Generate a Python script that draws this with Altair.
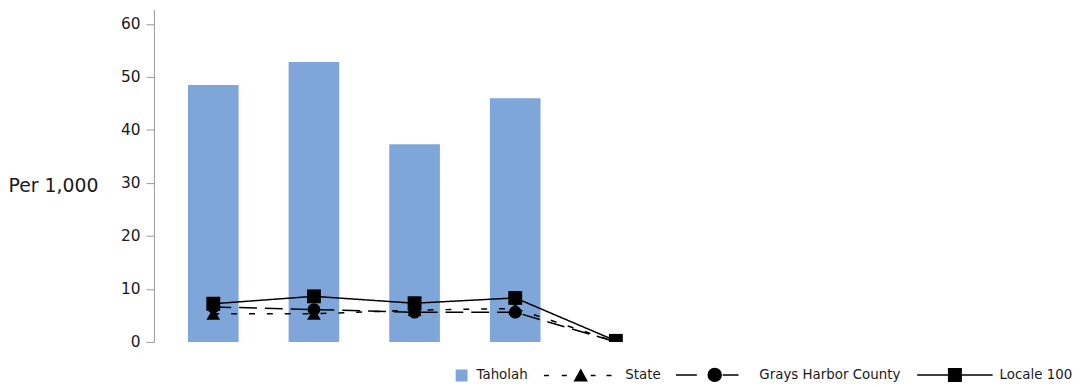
import altair as alt
import pandas as pd

# ---- data ----
periods = [1, 2, 3, 4, 5]
taholah = [48.5, 52.8, 37.3, 46.0, None]
state = [5.3, 5.3, 6.0, 6.3, 0.0]
grays = [6.6, 6.1, 5.6, 5.6, 0.0]
locale = [7.2, 8.6, 7.3, 8.3, 0.2]
series_names = ["Taholah", "State", "Grays Harbor County", "Locale 100"]
y_ticks = [0, 10, 20, 30, 40, 50, 60]

rows = []
for name, vals in zip(series_names, [taholah, state, grays, locale]):
    for p, v in zip(periods, vals):
        if v is not None:
            rows.append({"series": name, "period": p, "value": v})
df = pd.DataFrame(rows)

BAR = "#7EA6D8"
TXT = "#1a1a1a"
FONT = "DejaVu Sans"

# legend symbol paths (unit = sqrt(symbolSize)/2 = 7 px)
U = 7.0


def u(px):
    return round(px / U, 3)


def hseg(a, b):
    return f"M{u(a)},0H{u(b)}"


taholah_path = f"M{u(24.75)},{u(-5.25)}H{u(35.25)}V{u(5.25)}H{u(24.75)}Z"
state_path = (hseg(-37, -32) + hseg(-19, -14) + hseg(10, 15) + hseg(26, 31)
              + f"M0,{u(-5.5)}L{u(6)},{u(5.5)}L{u(-6)},{u(5.5)}Z")
r = u(6.5)
grays_path = (hseg(-39, -18) + hseg(8, 24)
              + f"M{-r},0A{r},{r},0,1,0,{r},0A{r},{r},0,1,0,{-r},0Z")
locale_path = hseg(-38, 38) + f"M{u(-6.3)},{u(-6.3)}H{u(6.3)}V{u(6.3)}H{u(-6.3)}Z"

x_enc = alt.X("period:Q", scale=alt.Scale(domain=[0.41, 9.187], nice=False, zero=False, padding=0), axis=None)
y_enc = alt.Y(
    "value:Q",
    scale=alt.Scale(domain=[0, 62.75], nice=False, padding=0),
    axis=alt.Axis(
        values=y_ticks, grid=False, title="Per 1,000", titleAngle=0, titleAlign="left",
        titleBaseline="middle", titleX=-147, titleY=177, titleFontSize=19,
        titleFontWeight="normal", titleColor=TXT, titleFont=FONT,
        labelFont=FONT, labelFontSize=15.5, labelColor=TXT, labelPadding=6,
        domainColor="#999999", tickColor="#999999", tickSize=8,
    ),
)

base = alt.Chart(df)

bars = base.transform_filter(alt.datum.series == "Taholah").mark_bar(size=51, color=BAR).encode(x=x_enc, y=y_enc)

lines = base.transform_filter(alt.datum.series != "Taholah").mark_line(color="black", strokeWidth=1.5, clip=True).encode(
    x=x_enc, y=y_enc,
    detail="series:N",
    strokeDash=alt.StrokeDash(
        "series:N",
        scale=alt.Scale(domain=["State", "Grays Harbor County", "Locale 100"],
                        range=[[6, 12], [18, 8], [1, 0]]),
        legend=None,
    ),
)


def pts(name, shape, size):
    return base.transform_filter(alt.datum.series == name).mark_point(
        filled=True, shape=shape, size=size, color="black", opacity=1, clip=True
    ).encode(x=x_enc, y=y_enc)


p_grays = pts("Grays Harbor County", "circle", 165)
p_state = pts("State", "triangle-up", 190)
p_locale = pts("Locale 100", "square", 196)


def make_legend():
    return alt.Legend(
        title=None, orient="none", legendX=272, legendY=360, direction="horizontal",
        symbolSize=196, symbolStrokeWidth=1.5, symbolOffset=0, labelOffset=37,
        columnPadding=12, labelFont=FONT, labelFontSize=13.5, labelColor=TXT,
        symbolOpacity=1,
    )


sym_colors = [BAR, "black", "black", "black"]

legend_layer = base.transform_filter("false").mark_point(filled=True).encode(
    x=x_enc, y=y_enc,
    shape=alt.Shape(
        "series:N",
        scale=alt.Scale(domain=series_names,
                        range=[taholah_path, state_path, grays_path, locale_path]),
        legend=make_legend(),
    ),
    fill=alt.Fill("series:N", scale=alt.Scale(domain=series_names, range=sym_colors), legend=make_legend()),
    stroke=alt.Stroke("series:N", scale=alt.Scale(domain=series_names, range=sym_colors), legend=make_legend()),
)

chart = alt.layer(bars, lines, p_grays, p_state, p_locale, legend_layer).properties(
    width=890, height=335,
    autosize=alt.AutoSizeParams(type="none"),
    padding={"left": 147, "top": 0, "right": 37, "bottom": 41},
).configure(font=FONT, view=alt.ViewConfig(stroke=None))

chart.save("out.html", embed_options={"renderer": "svg", "actions": False})
